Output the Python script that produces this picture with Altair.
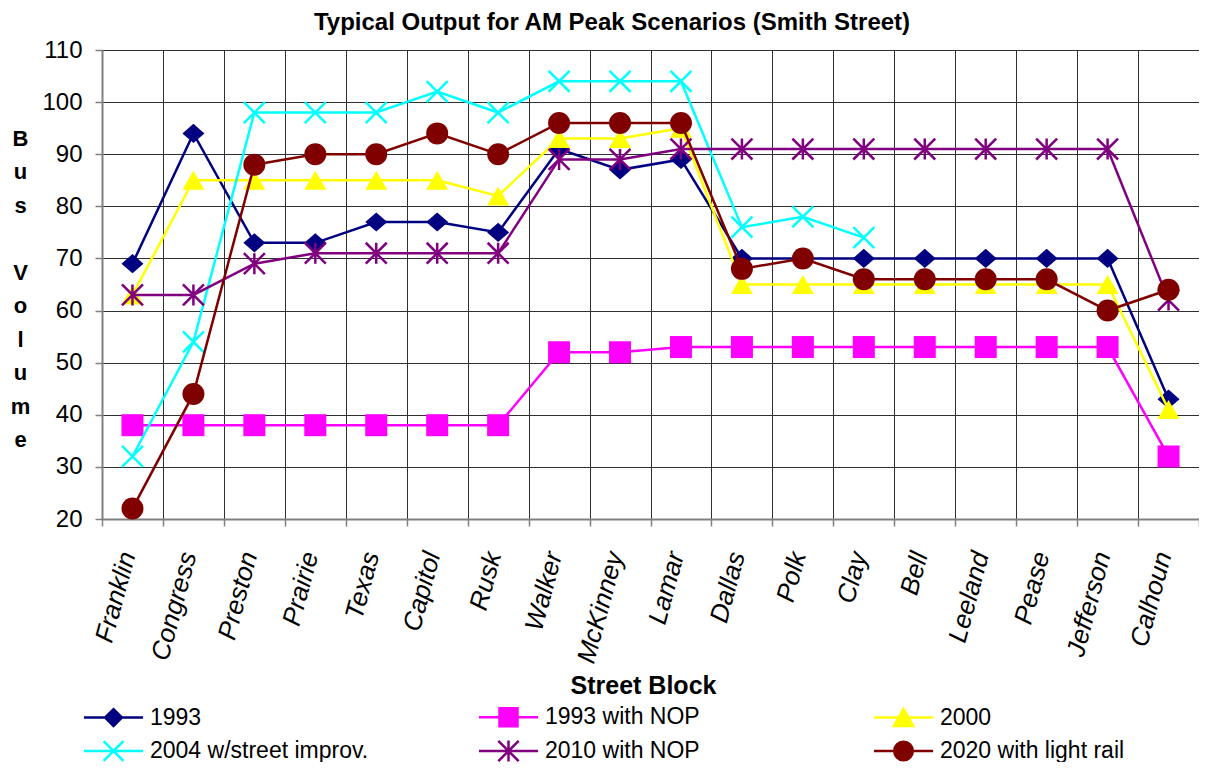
import altair as alt
import pandas as pd

# ---------------- data ----------------
streets = ["Franklin", "Congress", "Preston", "Prairie", "Texas", "Capitol", "Rusk",
           "Walker", "McKinney", "Lamar", "Dallas", "Polk", "Clay", "Bell",
           "Leeland", "Pease", "Jefferson", "Calhoun"]

series_names = ["1993", "1993 with NOP", "2000",
                "2004 w/street improv.", "2010 with NOP", "2020 with light rail"]

v_1993 = [69, 94, 73, 73, 77, 77, 75, 91, 87, 89, 70, 70, 70, 70, 70, 70, 70, 43]
v_1993_nop = [38, 38, 38, 38, 38, 38, 38, 52, 52, 53, 53, 53, 53, 53, 53, 53, 53, 32]
v_2000 = [63, 85, 85, 85, 85, 85, 82, 93, 93, 95, 65, 65, 65, 65, 65, 65, 65, 41]
v_2004 = [32, 54, 98, 98, 98, 102, 98, 104, 104, 104, 76, 78, 74,
          None, None, None, None, None]
v_2010 = [63, 63, 69, 71, 71, 71, 71, 89, 89, 91, 91, 91, 91, 91, 91, 91, 91, 62]
v_2020 = [22, 44, 88, 90, 90, 94, 90, 96, 96, 96, 68, 70, 66, 66, 66, 66, 60, 64]

series_values = [v_1993, v_1993_nop, v_2000, v_2004, v_2010, v_2020]

# vertical, letter-by-letter axis title ("\u200b" keeps the empty line between words)
y_title_lines = ["B", "u", "s", "\u200b", "V", "o", "l", "u", "m", "e"]

# ---------------- styles ----------------
colors = ["#000080", "#FF00FF", "#FFFF00", "#00FFFF", "#800080", "#800000"]
marker_filled = [True, True, True, False, False, True]
marker_shapes = [
    "M0,-0.87L1,0L0,0.87L-1,0Z",
    "square",
    "triangle-up",
    "M-1,-1L1,1M-1,1L1,-1",
    "M-1,-1L1,1M-1,1L1,-1M0,-1V1",
    "circle",
]
legend_shapes = [
    "M-1.97,0H1.97M0,-0.56L0.56,0L0,0.56L-0.56,0Z",
    "M-1.97,0H1.97M-0.6,-0.6H0.6V0.6H-0.6Z",
    "M-1.97,0H1.97M0,-0.58L0.64,0.56H-0.64Z",
    "M-1.97,0H1.97M-0.66,-0.66L0.66,0.66M-0.66,0.66L0.66,-0.66",
    "M-1.97,0H1.97M-0.68,-0.68L0.68,0.68M-0.68,0.68L0.68,-0.68M0,-0.7V0.7",
    "M-1.97,0H1.97M0.62,0A0.62,0.62,0,1,1,-0.62,0A0.62,0.62,0,1,1,0.62,0Z",
]
legend_fills = [c if f else "transparent" for c, f in zip(colors, marker_filled)]

FONT = "Liberation Sans"
GRID = "#303030"

rows = []
for name, vals in zip(series_names, series_values):
    for st, v in zip(streets, vals):
        if v is not None:
            rows.append({"street": st, "series": name, "volume": v})
df = pd.DataFrame(rows)

x_enc = alt.X(
    "street:N",
    sort=streets,
    bandPosition=0.5,
    scale=alt.Scale(type="band", domain=streets, paddingInner=0, paddingOuter=0),
    axis=alt.Axis(
        title="Street Block",
        tickBand="extent",
        grid=True, gridColor=GRID, gridWidth=1,
        domainColor="#808080", domainWidth=2,
        ticks=True, tickColor="#808080", tickWidth=1.5, tickSize=7,
        labelAngle=285, labelAlign="right", labelBaseline="middle",
        labelFont=FONT, labelFontStyle="italic", labelFontSize=26,
        labelColor="black", labelPadding=26, labelOffset=-5,
        labelLimit=0, labelOverlap=False,
        titleFont=FONT, titleFontSize=25, titleFontWeight="bold", titleColor="black",
        titleX=541, titleY=174, titleAlign="center", titleBaseline="alphabetic",
    ),
)

y_enc = alt.Y(
    "volume:Q",
    scale=alt.Scale(domain=[20, 110], nice=False, zero=False),
    axis=alt.Axis(
        title=y_title_lines,
        values=list(range(20, 111, 10)),
        grid=True, gridColor=GRID, gridWidth=1,
        domainColor="#808080", domainWidth=2,
        tickColor="#808080", tickWidth=1.5, tickSize=7,
        labelFont=FONT, labelFontSize=24, labelColor="black", labelPadding=13,
        titleAngle=0, titleX=-82, titleY=95, titleAlign="center",
        titleBaseline="alphabetic", titleLineHeight=33.5,
        titleFont=FONT, titleFontSize=22, titleFontWeight="bold", titleColor="black",
    ),
)

legend_def = alt.Legend(
    title=None, orient="none", legendX=-5, legendY=650,
    direction="horizontal",
    columns=3, gridAlign="all", columnPadding=104, rowPadding=2.5,
    symbolSize=900, symbolStrokeWidth=2.5, symbolOffset=0,
    labelOffset=20, labelFont=FONT, labelFontSize=23, labelColor="black",
    labelLimit=0, padding=0,
)

legend_layer = (
    alt.Chart(df)
    .transform_filter("false")
    .mark_point(strokeWidth=2.5, opacity=1)
    .encode(
        x=x_enc,
        y=y_enc,
        shape=alt.Shape("series:N", scale=alt.Scale(domain=series_names, range=legend_shapes), legend=legend_def),
        fill=alt.Fill("series:N", scale=alt.Scale(domain=series_names, range=legend_fills), legend=legend_def),
        stroke=alt.Stroke("series:N", scale=alt.Scale(domain=series_names, range=colors), legend=legend_def),
    )
)

layers = [legend_layer]
for name, color, shp, filled in zip(series_names, colors, marker_shapes, marker_filled):
    base = alt.Chart(df).transform_filter(alt.datum.series == name)
    layers.append(base.mark_line(color=color, strokeWidth=2.5).encode(x=x_enc, y=y_enc))
    if filled:
        pts = base.mark_point(shape=shp, size=484, filled=True, color=color, opacity=1)
    else:
        pts = base.mark_point(shape=shp, size=440, filled=False, color=color,
                              strokeWidth=2.5, opacity=1)
    layers.append(pts.encode(x=x_enc, y=y_enc))

chart = (
    alt.layer(*layers)
    .properties(
        width=1097,
        height=469,
        padding={"left": 94, "top": 42, "right": 0, "bottom": 243},
        autosize=alt.AutoSizeParams(type="none"),
        title=alt.Title(
            "Typical Output for AM Peak Scenarios (Smith Street)",
            font=FONT, fontSize=24, fontWeight="bold", color="black",
            anchor="middle", frame="group", dx=-38.5, offset=3, baseline="top",
        ),
    )
    .configure_view(stroke="#808080", strokeWidth=2)
    .configure(background="white")
)

chart.save("out.html", embed_options={"renderer": "svg", "actions": False})
